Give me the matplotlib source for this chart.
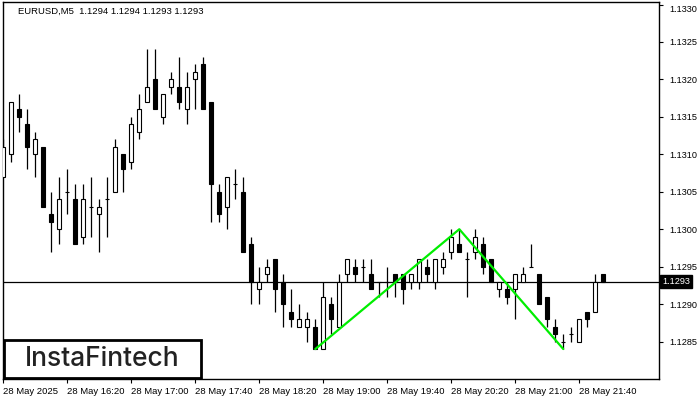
import matplotlib
matplotlib.use("Agg")
import matplotlib.pyplot as plt
from matplotlib.patches import Rectangle
import matplotlib.transforms as mtransforms

title = "EURUSD,M5  1.1294 1.1294 1.1293 1.1293"

opens = [1.1307, 1.1310, 1.1316, 1.1314, 1.1310, 1.1311, 1.1302, 1.1300, 1.1305, 1.1304,
         1.1299, 1.1303, 1.1302, 1.1304, 1.1305, 1.1310, 1.1309, 1.1313, 1.1317, 1.1320,
         1.1315, 1.1319, 1.1319, 1.1316, 1.1320, 1.1322, 1.1317, 1.1305, 1.1303, 1.1306,
         1.1305, 1.1298, 1.1292, 1.1294, 1.1296, 1.1293, 1.1289, 1.1287, 1.1287, 1.1287,
         1.1284, 1.1290, 1.1287, 1.1294, 1.1295, 1.1295, 1.1294, 1.1293, 1.1293, 1.1294,
         1.1294, 1.1293, 1.1293, 1.1295, 1.1293, 1.1295, 1.1297, 1.1298, 1.1296, 1.1297,
         1.1298, 1.1296, 1.1292, 1.1292, 1.1292, 1.1293, 1.1295, 1.1294, 1.1291, 1.1287,
         1.1285, 1.1286, 1.1285, 1.1289, 1.1289, 1.1294]
highs = [1.1312, 1.1317, 1.1318, 1.1316, 1.1313, 1.1311, 1.1305, 1.1307, 1.1308, 1.1306,
         1.1306, 1.1307, 1.1304, 1.1307, 1.1312, 1.1310, 1.1315, 1.1318, 1.1324, 1.1324,
         1.1318, 1.1321, 1.1323, 1.1321, 1.1322, 1.1323, 1.1317, 1.1306, 1.1307, 1.1308,
         1.1307, 1.1299, 1.1295, 1.1296, 1.1296, 1.1294, 1.1292, 1.1290, 1.1289, 1.1288,
         1.1293, 1.1291, 1.1294, 1.1296, 1.1296, 1.1296, 1.1296, 1.1293, 1.1295, 1.1294,
         1.1294, 1.1294, 1.1296, 1.1296, 1.1296, 1.1297, 1.1300, 1.1300, 1.1297, 1.1300,
         1.1299, 1.1296, 1.1293, 1.1293, 1.1294, 1.1295, 1.1298, 1.1294, 1.1291, 1.1288,
         1.1286, 1.1287, 1.1288, 1.1289, 1.1294, 1.1294]
lows = [1.1307, 1.1309, 1.1313, 1.1308, 1.1307, 1.1303, 1.1297, 1.1298, 1.1302, 1.1298,
        1.1298, 1.1299, 1.1297, 1.1299, 1.1305, 1.1305, 1.1308, 1.1312, 1.1317, 1.1316,
        1.1314, 1.1318, 1.1316, 1.1314, 1.1316, 1.1316, 1.1301, 1.1301, 1.1300, 1.1304,
        1.1297, 1.1290, 1.1290, 1.1293, 1.1289, 1.1287, 1.1287, 1.1287, 1.1285, 1.1284,
        1.1284, 1.1286, 1.1287, 1.1293, 1.1293, 1.1293, 1.1292, 1.1291, 1.1291, 1.1291,
        1.1290, 1.1292, 1.1292, 1.1293, 1.1292, 1.1294, 1.1296, 1.1297, 1.1291, 1.1296,
        1.1294, 1.1293, 1.1291, 1.1290, 1.1288, 1.1293, 1.1295, 1.1290, 1.1287, 1.1285,
        1.1284, 1.1285, 1.1285, 1.1287, 1.1289, 1.1293]
closes = [1.1311, 1.1317, 1.1315, 1.1311, 1.1312, 1.1303, 1.1301, 1.1304, 1.1305, 1.1298,
          1.1304, 1.1303, 1.1303, 1.1304, 1.1311, 1.1308, 1.1314, 1.1316, 1.1319, 1.1316,
          1.1318, 1.1320, 1.1317, 1.1319, 1.1321, 1.1316, 1.1306, 1.1302, 1.1307, 1.1306,
          1.1297, 1.1293, 1.1293, 1.1295, 1.1292, 1.1290, 1.1288, 1.1288, 1.1288, 1.1284,
          1.1291, 1.1288, 1.1293, 1.1296, 1.1294, 1.1295, 1.1292, 1.1293, 1.1293, 1.1293,
          1.1292, 1.1294, 1.1296, 1.1294, 1.1296, 1.1296, 1.1299, 1.1297, 1.1296, 1.1299,
          1.1295, 1.1293, 1.1293, 1.1291, 1.1294, 1.1294, 1.1295, 1.1290, 1.1288, 1.1286,
          1.1285, 1.1286, 1.1288, 1.1288, 1.1293, 1.1293]

time_tick_index = [0, 8, 16, 24, 32, 40, 48, 56, 64, 72]
time_tick_labels = ["28 May 2025", "28 May 16:20", "28 May 17:00", "28 May 17:40",
                    "28 May 18:20", "28 May 19:00", "28 May 19:40", "28 May 20:20",
                    "28 May 21:00", "28 May 21:40"]
price_ticks = [1.1285, 1.1290, 1.1295, 1.1300, 1.1305, 1.1310, 1.1315, 1.1320, 1.1325, 1.1330]
current_price = 1.1293
pattern_x = [39, 57, 70]
pattern_y = [1.1284, 1.1300, 1.1284]
logo_text = "InstaFintech"

FONT = "Liberation Sans"
W, H = 700, 400
fig = plt.figure(figsize=(W / 100, H / 100), dpi=100)
x0, x1, ytop, ybot = 2.7, 659.3, 2.3, 379.0
ax = fig.add_axes([x0 / W, 1 - ybot / H, (x1 - x0) / W, (ybot - ytop) / H])
ax.set_xlim(-0.075, 82.0)
ax.set_ylim(1.12800, 1.13303)

n = len(opens)
xs = list(range(n))
ax.vlines(xs, lows, highs, color="black", linewidth=0.9, zorder=2)
bottoms = [min(o, c) for o, c in zip(opens, closes)]
heights = [abs(c - o) for o, c in zip(opens, closes)]
fills = ["black" if c < o else "white" for o, c in zip(opens, closes)]
ax.bar(xs, heights, width=0.52, bottom=bottoms, color=fills, edgecolor="black",
       linewidth=0.8, zorder=3)

ax.axhline(current_price, color="black", linewidth=0.9, zorder=1)
ax.plot(pattern_x, pattern_y, color="#00ee00", linewidth=1.6, zorder=4,
        solid_capstyle="round")

for s in ax.spines.values():
    s.set_color("black")
    s.set_linewidth(1.0)

ax.yaxis.tick_right()
ax.set_yticks(price_ticks)
ax.set_yticklabels([f"{p:.4f}" for p in price_ticks], fontfamily=FONT, fontsize=6.6)
ax.tick_params(axis="y", direction="out", length=3, width=0.8, pad=4, colors="black")
ylabels = ax.get_yticklabels()
ylabels[-1].set_verticalalignment("top")

ax.set_xticks(time_tick_index)
ax.set_xticklabels(time_tick_labels, fontfamily=FONT, fontsize=6.8)
for lbl in ax.get_xticklabels():
    lbl.set_horizontalalignment("left")
ax.tick_params(axis="x", direction="out", length=3, width=0.8, pad=2.5, colors="black")

trans = mtransforms.blended_transform_factory(ax.transAxes, ax.transData)
ax.text(1.004, current_price, f"{current_price:.4f}", transform=trans, ha="left",
        va="center", color="white", fontfamily=FONT, fontsize=6.6, zorder=6,
        bbox=dict(boxstyle="square,pad=0.25", fc="black", ec="black"), clip_on=False)

fig.text(18 / W, 1 - 11 / H, title, fontfamily=FONT, fontsize=6.8, ha="left",
         va="center", color="black")

ax.add_patch(Rectangle((0.0015, 0.0015), 0.301, 0.101, transform=ax.transAxes,
                       facecolor="white", edgecolor="black", linewidth=2.0, zorder=7))
ax.text(0.152, 0.052, logo_text, transform=ax.transAxes, ha="center", va="center",
        fontfamily="Inter", fontsize=19, fontweight="medium", color="#222222", zorder=8)

fig.savefig("out.png", dpi=100, facecolor="white")
